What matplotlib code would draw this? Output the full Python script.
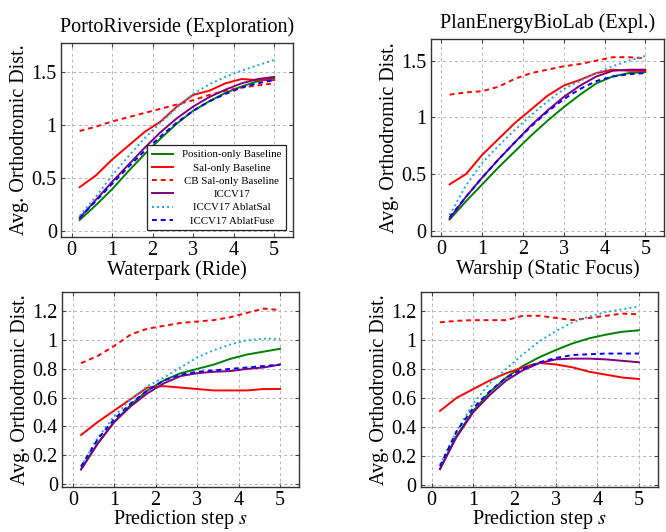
import matplotlib
matplotlib.use("Agg")
import matplotlib.pyplot as plt
from matplotlib.ticker import FuncFormatter

plt.rcParams["font.family"] = ["Liberation Serif", "DejaVu Serif"]
plt.rcParams["mathtext.fontset"] = "stix"

# prediction steps (seconds)
steps = [0.2, 0.6, 1.0, 1.4, 1.8, 2.2, 2.6, 3.0, 3.4, 3.8, 4.2, 4.6, 5.0]

# PortoRiverside (Exploration)
porto_pos  = [0.10, 0.24, 0.39, 0.56, 0.72, 0.87, 1.01, 1.13, 1.22, 1.30, 1.36, 1.41, 1.44]
porto_sal  = [0.41, 0.52, 0.67, 0.80, 0.93, 1.03, 1.17, 1.28, 1.32, 1.39, 1.43, 1.42, 1.42]
porto_cb   = [0.94, 0.98, 1.03, 1.07, 1.11, 1.15, 1.19, 1.23, 1.28, 1.32, 1.35, 1.37, 1.39]
porto_iccv = [0.12, 0.29, 0.46, 0.62, 0.78, 0.93, 1.06, 1.17, 1.26, 1.33, 1.39, 1.43, 1.45]
porto_asal = [0.14, 0.32, 0.52, 0.70, 0.87, 1.02, 1.16, 1.29, 1.38, 1.45, 1.51, 1.56, 1.61]
porto_afus = [0.12, 0.28, 0.44, 0.60, 0.75, 0.89, 1.02, 1.13, 1.22, 1.29, 1.35, 1.39, 1.42]

# PlanEnergyBioLab (Expl.)
plan_pos  = [0.10, 0.26, 0.41, 0.56, 0.70, 0.84, 0.97, 1.09, 1.20, 1.30, 1.36, 1.39, 1.40]
plan_sal  = [0.41, 0.50, 0.67, 0.81, 0.95, 1.07, 1.19, 1.28, 1.33, 1.39, 1.42, 1.41, 1.41]
plan_cb   = [1.20, 1.22, 1.23, 1.27, 1.34, 1.39, 1.42, 1.45, 1.47, 1.50, 1.53, 1.53, 1.52]
plan_iccv = [0.11, 0.30, 0.47, 0.63, 0.78, 0.93, 1.06, 1.18, 1.28, 1.36, 1.41, 1.42, 1.42]
plan_asal = [0.14, 0.40, 0.60, 0.75, 0.89, 1.02, 1.14, 1.25, 1.32, 1.39, 1.45, 1.50, 1.54]
plan_afus = [0.12, 0.30, 0.47, 0.63, 0.78, 0.92, 1.05, 1.16, 1.25, 1.32, 1.36, 1.38, 1.39]

# Waterpark (Ride)
water_pos  = [0.10, 0.28, 0.43, 0.55, 0.65, 0.72, 0.77, 0.80, 0.83, 0.87, 0.90, 0.92, 0.94]
water_sal  = [0.34, 0.43, 0.51, 0.59, 0.67, 0.68, 0.67, 0.66, 0.65, 0.65, 0.65, 0.66, 0.66]
water_cb   = [0.84, 0.89, 0.96, 1.04, 1.08, 1.10, 1.12, 1.13, 1.14, 1.16, 1.19, 1.22, 1.21]
water_iccv = [0.10, 0.28, 0.43, 0.54, 0.63, 0.70, 0.75, 0.77, 0.78, 0.785, 0.80, 0.81, 0.83]
water_asal = [0.12, 0.32, 0.47, 0.59, 0.68, 0.74, 0.81, 0.88, 0.93, 0.97, 1.00, 1.01, 1.01]
water_afus = [0.12, 0.31, 0.45, 0.56, 0.65, 0.72, 0.76, 0.78, 0.79, 0.80, 0.81, 0.82, 0.83]

# Warship (Static Focus)
war_pos  = [0.11, 0.34, 0.51, 0.64, 0.74, 0.82, 0.88, 0.93, 0.975, 1.01, 1.035, 1.055, 1.065]
war_sal  = [0.51, 0.60, 0.66, 0.72, 0.77, 0.81, 0.84, 0.83, 0.81, 0.78, 0.76, 0.74, 0.73]
war_cb   = [1.12, 1.13, 1.135, 1.135, 1.135, 1.165, 1.165, 1.15, 1.135, 1.15, 1.165, 1.18, 1.175]
war_iccv = [0.11, 0.33, 0.50, 0.62, 0.72, 0.79, 0.84, 0.865, 0.87, 0.87, 0.865, 0.855, 0.845]
war_asal = [0.14, 0.37, 0.56, 0.70, 0.80, 0.90, 0.99, 1.06, 1.12, 1.16, 1.19, 1.21, 1.23]
war_afus = [0.13, 0.37, 0.53, 0.645, 0.74, 0.80, 0.845, 0.875, 0.895, 0.90, 0.905, 0.905, 0.905]

labels = ["Position-only Baseline", "Sal-only Baseline", "CB Sal-only Baseline",
          "ICCV17", "ICCV17 AblatSal", "ICCV17 AblatFuse"]
colors = ["#008000", "#ff0000", "#ff0000", "#800080", "#1ba6de", "#0000ff"]
styles = ["-", "-", (0, (2.5, 2)), "-", (0, (1, 1.6)), (0, (2.5, 2))]

panels = [
    ([0.0916, 0.5545, 0.348, 0.3647], [porto_pos, porto_sal, porto_cb, porto_iccv, porto_asal, porto_afus],
     "PortoRiverside (Exploration)", "Waterpark (Ride)", (-0.06, 1.77), [0, 0.5, 1, 1.5]),
    ([0.647, 0.556, 0.350, 0.370], [plan_pos, plan_sal, plan_cb, plan_iccv, plan_asal, plan_afus],
     "PlanEnergyBioLab (Expl.)", "Warship (Static Focus)", (-0.047, 1.687), [0, 0.5, 1, 1.5]),
    ([0.0931, 0.0855, 0.356, 0.366], [water_pos, water_sal, water_cb, water_iccv, water_asal, water_afus],
     None, r"Prediction step $s$", (-0.019, 1.337), [0, 0.2, 0.4, 0.6, 0.8, 1, 1.2]),
    ([0.632, 0.0855, 0.356, 0.366], [war_pos, war_sal, war_cb, war_iccv, war_asal, war_afus],
     None, r"Prediction step $s$", (-0.01, 1.33), [0, 0.2, 0.4, 0.6, 0.8, 1, 1.2]),
]

fig = plt.figure(figsize=(6.66, 5.32), dpi=100)
leg = None

for i, (rect, series, title, xlabel, ylim, yticks) in enumerate(panels):
    ax = fig.add_axes(rect)
    for vals, lab, col, ls in zip(series, labels, colors, styles):
        ax.plot(steps, vals, color=col, linestyle=ls, linewidth=1.4, label=lab)
    ax.set_xlim(-0.26, 5.46)
    ax.set_ylim(*ylim)
    ax.set_xticks([0, 1, 2, 3, 4, 5])
    ax.set_yticks(yticks)
    ax.yaxis.set_major_formatter(FuncFormatter(lambda v, p: "%g" % v))
    ax.grid(True, color="#b4b4b4", linestyle=(0, (3, 3)), linewidth=0.7)
    ax.tick_params(direction="in", top=True, right=True, labelsize=14.5, length=3,
                   color="#444444", pad=3)
    for sp in ax.spines.values():
        sp.set_color("#333333")
        sp.set_linewidth(1.0)
    ax.set_ylabel("Avg. Orthodromic Dist.", fontsize=14.5, labelpad=2)
    ax.set_xlabel(xlabel, fontsize=14.5, labelpad=-1 if title is None else 0)
    if title:
        ax.set_title(title, fontsize=14.5, pad=8)
    if i == 0:
        leg = ax.legend(loc="lower right", bbox_to_anchor=(0.97, 0.036), borderaxespad=0,
                        fontsize=7.8, fancybox=False, edgecolor="#222222", framealpha=1,
                        handlelength=2.0, labelspacing=0.34, borderpad=0.4, handletextpad=0.8)
        leg.get_frame().set_linewidth(0.9)

# centre the legend entries like the original
renderer = fig.canvas.get_renderer()
widths = [t.get_window_extent(renderer).width for t in leg.get_texts()]
for t, w in zip(leg.get_texts(), widths):
    t.set_x((max(widths) - w) / 2)

fig.savefig("out.png", dpi=100)
